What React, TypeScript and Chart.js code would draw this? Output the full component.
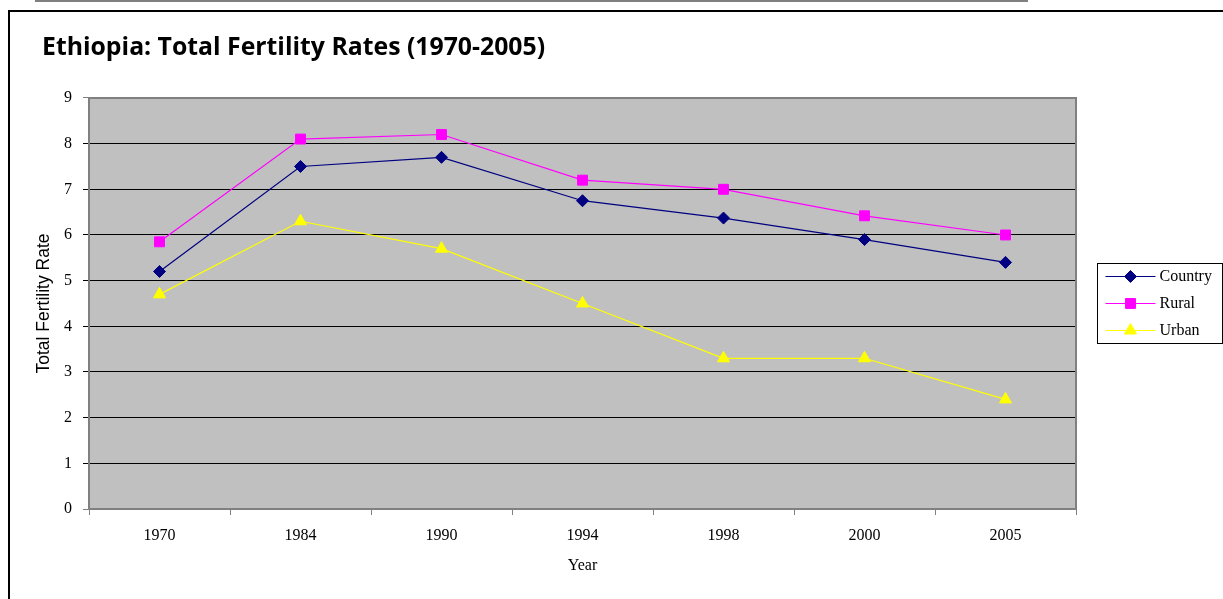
import React, { useEffect, useRef } from 'react';
import { Chart, registerables } from 'chart.js';
import { drawPoint } from 'chart.js/helpers';

Chart.register(...registerables);

// ---- data ----
const years = ['1970', '1984', '1990', '1994', '1998', '2000', '2005'];
const countryTFR = [5.2, 7.5, 7.7, 6.75, 6.37, 5.9, 5.4];
const ruralTFR = [5.85, 8.1, 8.2, 7.2, 7.0, 6.42, 6.0];
const urbanTFR = [4.7, 6.3, 5.7, 4.5, 3.3, 3.3, 2.4];
const seriesNames = ['Country', 'Rural', 'Urban'];
const seriesColors = ['#000080', '#FF00FF', '#FFFF00'];
const seriesMarkers = ['rectRot', 'rect', 'triangle'];
const seriesRadii = [6, 7, 7];
const yMin = 0;
const yMax = 9;
const yStep = 1;
const chartTitle = 'Ethiopia: Total Fertility Rates (1970-2005)';
const xTitle = 'Year';
const yTitle = 'Total Fertility Rate';

const serif = "'Liberation Serif', 'Times New Roman', serif";

const plotBackground = {
  id: 'plotBackground',
  beforeDraw(chart: any) {
    const { ctx, chartArea: a } = chart;
    ctx.save();
    ctx.fillStyle = '#C0C0C0';
    ctx.fillRect(a.left, a.top, a.right - a.left, a.bottom - a.top);
    ctx.restore();
  },
};

const plotFrame = {
  id: 'plotFrame',
  beforeDatasetsDraw(chart: any) {
    const { ctx, chartArea: a } = chart;
    ctx.save();
    ctx.strokeStyle = '#808080';
    ctx.lineWidth = 2;
    ctx.beginPath();
    ctx.moveTo(a.left, a.top);
    ctx.lineTo(a.right, a.top);
    ctx.lineTo(a.right, a.bottom);
    ctx.stroke();
    ctx.restore();
  },
};

const boxedLegend = {
  id: 'boxedLegend',
  afterDraw(chart: any) {
    const { ctx, chartArea: a } = chart;
    const mid = (a.top + a.bottom) / 2;
    const boxLeft = a.right + 21.5;
    const rowGap = 27;
    const n = chart.data.datasets.length;
    const boxTop = Math.round(mid - rowGap * (n / 2)) + 0.5;
    const boxH = rowGap * n - 1;
    ctx.save();
    ctx.strokeStyle = '#000';
    ctx.lineWidth = 1;
    ctx.strokeRect(boxLeft, boxTop, 125, boxH);
    chart.data.datasets.forEach((ds: any, i: number) => {
      const y = mid + (i - (n - 1) / 2) * rowGap;
      const x0 = boxLeft + 8;
      const x1 = boxLeft + 58;
      ctx.strokeStyle = ds.borderColor;
      ctx.lineWidth = 1.2;
      ctx.beginPath();
      ctx.moveTo(x0, y);
      ctx.lineTo(x1, y);
      ctx.stroke();
      ctx.fillStyle = ds.pointBackgroundColor;
      ctx.strokeStyle = ds.pointBorderColor;
      ctx.lineWidth = 1;
      drawPoint(ctx, { pointStyle: ds.pointStyle, radius: ds.pointRadius, rotation: 0, borderWidth: 1 } as any, (x0 + x1) / 2, y);
      ctx.fillStyle = '#000';
      ctx.font = `16px ${serif}`;
      ctx.textAlign = 'left';
      ctx.textBaseline = 'middle';
      ctx.fillText(ds.label, x1 + 4, y);
    });
    ctx.restore();
  },
};

export default function App() {
  const canvasRef = useRef<HTMLCanvasElement>(null);

  useEffect(() => {
    const values = [countryTFR, ruralTFR, urbanTFR];
    const chart = new Chart(canvasRef.current as HTMLCanvasElement, {
      type: 'line',
      data: {
        labels: years,
        datasets: seriesNames.map((name, i) => ({
          label: name,
          data: values[i],
          borderColor: seriesColors[i],
          backgroundColor: seriesColors[i],
          pointBackgroundColor: seriesColors[i],
          pointBorderColor: seriesColors[i],
          pointStyle: seriesMarkers[i] as any,
          pointRadius: seriesRadii[i],
          pointBorderWidth: 1,
          borderWidth: 1.2,
          tension: 0,
          fill: false,
        })),
      },
      options: {
        animation: false,
        responsive: true,
        maintainAspectRatio: false,
        devicePixelRatio: 1,
        layout: { padding: { left: 42, right: 147, top: 0, bottom: 0 } },
        plugins: {
          legend: { display: false },
          tooltip: { enabled: false },
          title: {
            display: true,
            text: chartTitle,
            align: 'start',
            color: '#000',
            font: { family: "'Open Sans'", size: 24.8, weight: 'bold' },
            padding: { top: 33, bottom: 35.2 },
          },
        },
        scales: {
          x: {
            type: 'category',
            offset: true,
            grid: {
              offset: true,
              drawOnChartArea: false,
              drawTicks: true,
              tickLength: 6,
              color: '#808080',
            },
            border: { color: '#808080', width: 2 },
            ticks: {
              color: '#000',
              font: { family: serif, size: 16 },
              padding: 11,
              maxRotation: 0,
              autoSkip: false,
            },
            title: {
              display: true,
              text: xTitle,
              color: '#000',
              font: { family: serif, size: 16 },
              padding: { top: 0, bottom: 23.4 },
            },
            afterFit: (s: any) => {
              s.height = 90;
            },
          },
          y: {
            min: yMin,
            max: yMax,
            ticks: {
              stepSize: yStep,
              color: '#000',
              font: { family: serif, size: 16 },
              padding: 11,
            },
            grid: {
              color: (c: any) => (c.tick && (c.tick.value === yMin || c.tick.value === yMax) ? '#808080' : '#000'),
              tickLength: 6,
              lineWidth: 1,
            },
            border: { color: '#808080', width: 2 },
            title: {
              display: true,
              text: yTitle,
              color: '#000',
              font: { family: "'Liberation Sans', Arial, sans-serif", size: 17.5 },
              padding: { top: -8, bottom: 0 },
            },
            afterFit: (s: any) => {
              s.width = 47;
            },
          },
        },
      },
      plugins: [plotBackground, plotFrame, boxedLegend],
    } as any);
    return () => chart.destroy();
  }, []);

  return (
    <div style={{ position: 'fixed', left: 0, top: 0, width: 1223, height: 599, overflow: 'hidden', background: '#fff' }}>
      <div style={{ position: 'absolute', left: 35, top: 0, width: 993, height: 2, background: '#808080' }} />
      <div
        style={{
          position: 'absolute',
          left: 8,
          top: 10,
          width: 1400,
          height: 800,
          borderLeft: '2px solid #000',
          borderTop: '2px solid #000',
        }}
      />
      <div style={{ position: 'absolute', left: 0, top: 0, width: 1223, height: 599 }}>
        <canvas ref={canvasRef} />
      </div>
    </div>
  );
}
